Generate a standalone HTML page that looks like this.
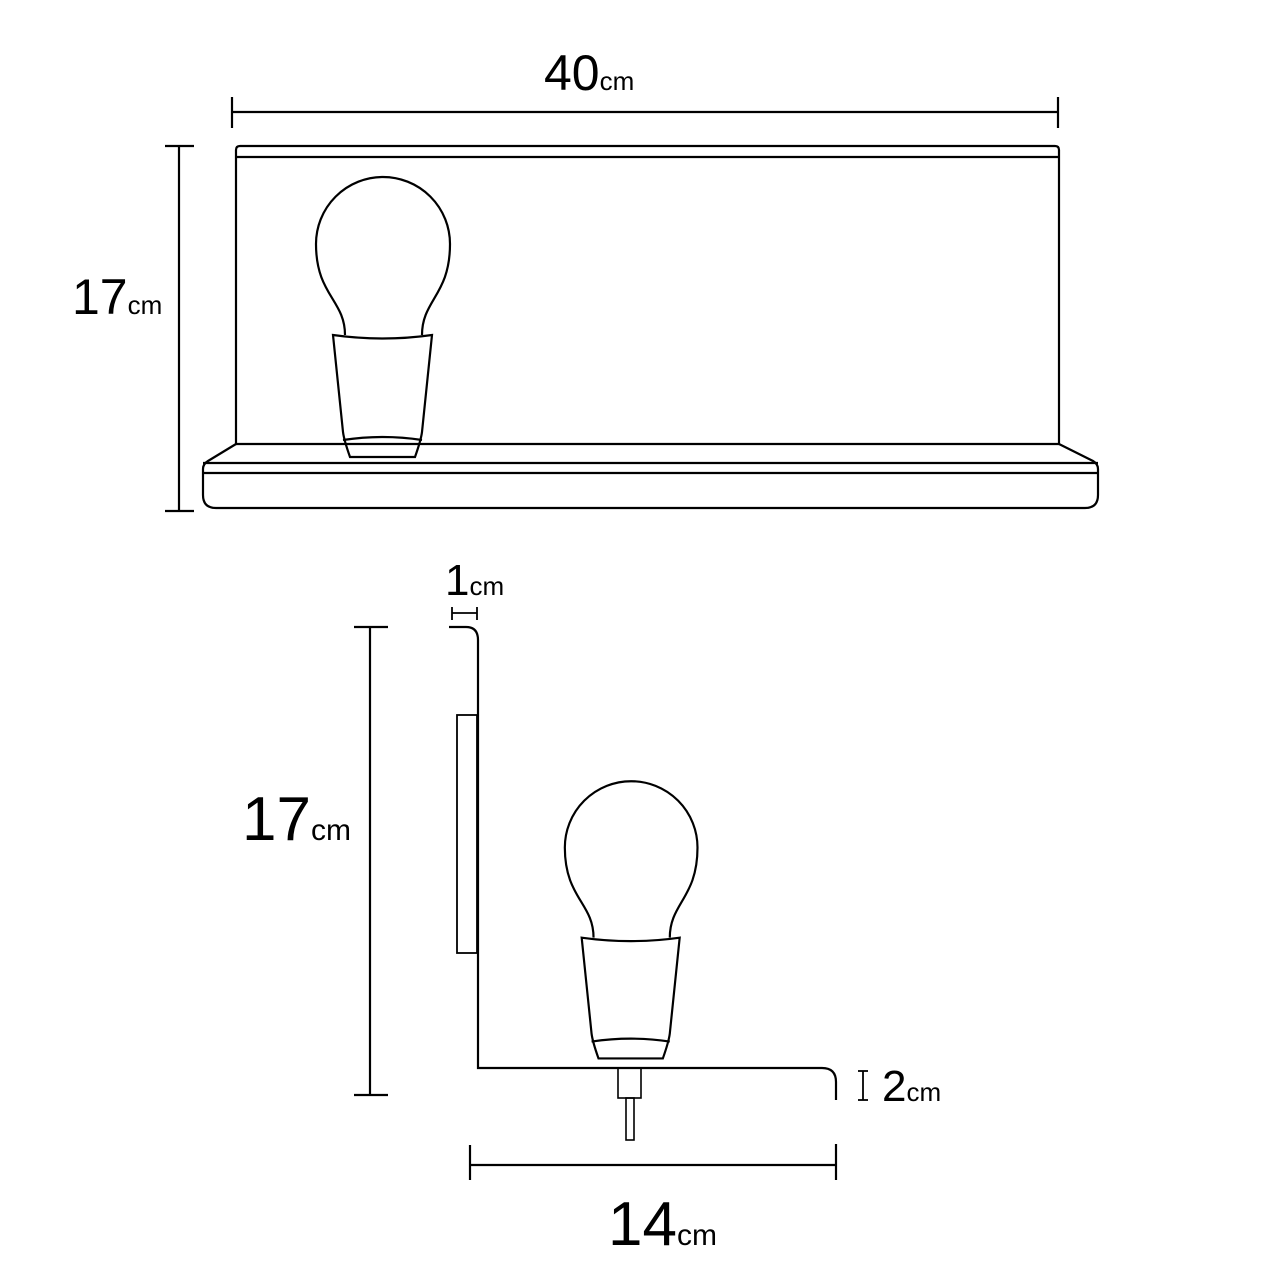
<!DOCTYPE html>
<html><head><style>
html,body{margin:0;padding:0;background:#fff;width:1280px;height:1280px;overflow:hidden}
text{font-family:"Liberation Sans",sans-serif;fill:#000}
</style></head><body>
<svg width="1280" height="1280" viewBox="0 0 1280 1280" xmlns="http://www.w3.org/2000/svg">
<defs>
<g id="bulb" fill="none" stroke="#000" stroke-width="2.2">
<path d="M345,335 C345,300 316,295 316,244 A67,67 0 0 1 450,244 C450,295 422,300 422,335"/>
<path d="M333,335 Q383,342 432,335 L422,432 Q421,440 415,457 L350,457 Q344,440 343,432 Z"/>
<path d="M343,440 Q383,434 422,440"/>
</g>
</defs>
<g fill="none" stroke="#000" stroke-width="2.2">
<line x1="232" y1="112" x2="1058" y2="112"/>
<line x1="232" y1="97" x2="232" y2="128"/>
<line x1="1058" y1="97" x2="1058" y2="128"/>
<line x1="179" y1="146" x2="179" y2="511"/>
<line x1="165" y1="146" x2="194" y2="146"/>
<line x1="165" y1="511" x2="194" y2="511"/>
<path d="M236,444 L236,150 Q236,146 240,146 L1055,146 Q1059,146 1059,150 L1059,444 Z"/>
<line x1="236" y1="157" x2="1059" y2="157"/>
<path d="M236,444 L208,461 Q203,464 203,469 L203,495 Q203,508 216,508 L1085,508 Q1098,508 1098,495 L1098,469 Q1098,464 1093,461 L1059,444"/>
<line x1="203" y1="463" x2="1098" y2="463"/>
<line x1="203" y1="473" x2="1098" y2="473"/>
</g>
<use href="#bulb"/>
<use href="#bulb" transform="translate(252,606) scale(0.99)"/>
<g fill="none" stroke="#000" stroke-width="2.2">
<path d="M449,627 L466,627 Q478,627 478,640 L478,1068 L822,1068 Q836,1068 836,1082 L836,1100"/>
<rect x="457" y="715" width="20" height="238" stroke-width="1.8"/>
<rect x="618" y="1068" width="23" height="30" stroke-width="1.6"/>
<rect x="626" y="1098" width="8" height="42" stroke-width="1.6"/>
<line x1="370" y1="627" x2="370" y2="1095"/>
<line x1="354" y1="627" x2="388" y2="627"/>
<line x1="354" y1="1095" x2="388" y2="1095"/>
<line x1="470" y1="1165" x2="836" y2="1165"/>
<line x1="470" y1="1145" x2="470" y2="1180"/>
<line x1="836" y1="1144" x2="836" y2="1180"/>
<line x1="452" y1="613" x2="477" y2="613" stroke-width="1.8"/>
<line x1="452" y1="607" x2="452" y2="620" stroke-width="1.8"/>
<line x1="477" y1="607" x2="477" y2="620" stroke-width="1.8"/>
<line x1="863" y1="1071" x2="863" y2="1100" stroke-width="1.8"/>
<line x1="858" y1="1071" x2="868" y2="1071" stroke-width="1.8"/>
<line x1="858" y1="1100" x2="868" y2="1100" stroke-width="1.8"/>
</g>
<text x="544" y="90" font-size="50">40<tspan font-size="26">cm</tspan></text>
<text x="72" y="314" font-size="50">17<tspan font-size="26">cm</tspan></text>
<text x="242" y="840" font-size="62">17<tspan font-size="30">cm</tspan></text>
<text x="608" y="1245" font-size="62">14<tspan font-size="30">cm</tspan></text>
<text x="445" y="595" font-size="44">1<tspan font-size="26">cm</tspan></text>
<text x="882" y="1101" font-size="44">2<tspan font-size="26">cm</tspan></text>
</svg>
</body></html>
